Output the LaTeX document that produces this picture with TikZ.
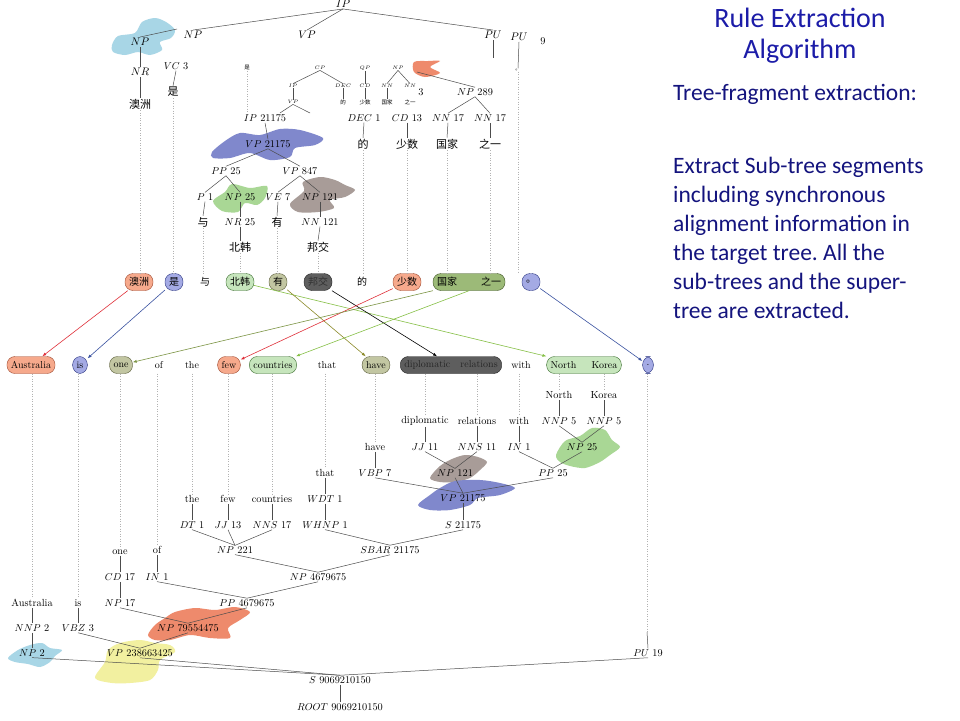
\documentclass[tikz,border=0pt]{standalone}
\usepackage{fontspec}
\newfontfamily\cjk{Noto Sans CJK SC}
\newfontfamily\slidefont{Carlito}
\usetikzlibrary{arrows.meta}
\frenchspacing

\definecolor{salmon}{HTML}{F6A98C}
\definecolor{salmonline}{HTML}{A04A30}
\definecolor{lilac}{HTML}{A4AAE4}
\definecolor{lilacline}{HTML}{2A3480}
\definecolor{mint}{HTML}{C6E5BC}
\definecolor{mintline}{HTML}{3C6E30}
\definecolor{sage}{HTML}{C2C6A2}
\definecolor{sageline}{HTML}{5A5C38}
\definecolor{slate}{HTML}{5E5E5E}
\definecolor{slateline}{HTML}{222222}
\definecolor{moss}{HTML}{9CBA78}
\definecolor{mossline}{HTML}{3E5424}
\definecolor{redlink}{HTML}{E0303A}
\definecolor{bluelink}{HTML}{3A52A0}
\definecolor{greenlink}{HTML}{86C046}
\definecolor{olivelink}{HTML}{8C8A2A}
\definecolor{mosslink}{HTML}{7C9444}
\definecolor{blobblue}{HTML}{8088CC}
\definecolor{blobgreen}{HTML}{A9D795}
\definecolor{blobtaupe}{HTML}{A89C98}
\definecolor{blobsky}{HTML}{A8D6E6}
\definecolor{blobcoral}{HTML}{EE8A6C}
\definecolor{blobyellow}{HTML}{F2F0A0}
\definecolor{titleblue}{HTML}{1C1CA8}
\definecolor{textblue}{HTML}{14147E}

\begin{document}
\begin{tikzpicture}[x=1pt, y=-1pt,
    tag/.style={inner sep=1pt, font=\fontsize{10.3}{12}\selectfont},
    toptag/.style={inner sep=1pt, font=\fontsize{11}{13}\selectfont},
    zh/.style={inner sep=1pt, font=\fontsize{11}{13}\selectfont\cjk},
    small/.style={inner sep=0.5pt, font=\fontsize{5.5}{6}\selectfont},
    smallzh/.style={inner sep=0.5pt, font=\fontsize{5.5}{6}\selectfont\cjk},
    word/.style={draw=#1line, fill=#1, rounded corners=8pt, minimum height=17pt,
      inner xsep=4pt, inner ysep=1pt, font=\fontsize{10}{12}\selectfont},
    bare/.style={minimum height=17pt, inner sep=1pt, font=\fontsize{10}{12}\selectfont},
    branch/.style={draw=black!70, line width=0.5pt},
    trace/.style={draw=black!30, dotted, line width=0.5pt},
    link/.style={draw=#1, -{Latex[length=4pt,width=3pt]}, line width=0.6pt}]
  \fill[white] (0,0) rectangle (960,720);
  \useasboundingbox (0,0) rectangle (960,720);

  % blobs behind the labels
  \fill[blobsky] plot[smooth cycle] coordinates {(112,45) (118,36) (135,33) (142,22) (155,18) (166,22) (175,30) (171,38) (160,42) (162,50) (150,55) (138,52) (125,55) (113,52)};
  \fill[blobcoral] plot[smooth cycle] coordinates {(414,62) (428,61) (440,61) (430,67) (440,73) (425,77) (414,72)};
  \fill[blobblue] plot[smooth cycle] coordinates {(212,152) (225,141) (240,133) (260,135) (280,129) (300,130) (323,138) (315,145) (295,148) (290,157) (270,160) (250,153) (230,158) (213,158)};
  \fill[blobgreen] plot[smooth cycle] coordinates {(213,201) (225,192) (232,184) (250,188) (267,186) (265,198) (257,205) (245,203) (238,212) (222,211)};
  \fill[blobtaupe] plot[smooth cycle] coordinates {(290,204) (304,191) (303,182) (320,177) (335,180) (345,185) (355,190) (345,197) (330,200) (334,208) (318,212) (298,212)};
  \fill[blobgreen] plot[smooth cycle] coordinates {(556,455) (565,441) (580,436) (592,428) (605,430) (612,440) (620,447) (610,455) (600,462) (585,468) (570,466) (560,462)};
  \fill[blobtaupe] plot[smooth cycle] coordinates {(430,478) (440,466) (452,459) (465,455) (478,457) (487,462) (480,470) (470,478) (455,482) (440,482)};
  \fill[blobblue] plot[smooth cycle] coordinates {(418,505) (430,495) (440,488) (455,481) (480,480) (500,483) (515,488) (500,495) (478,498) (470,505) (450,510) (430,510)};
  \fill[blobcoral] plot[smooth cycle] coordinates {(148,635) (155,625) (165,618) (175,612) (195,608) (215,610) (235,607) (250,612) (240,620) (228,628) (230,638) (210,638) (190,635) (170,640) (155,640)};
  \fill[blobsky] plot[smooth cycle] coordinates {(8,658) (18,650) (30,645) (42,643) (50,648) (62,650) (55,656) (50,662) (40,667) (28,664) (15,662)};
  \fill[blobyellow] plot[smooth cycle] coordinates {(95,678) (105,662) (108,650) (120,643) (140,640) (155,643) (170,645) (175,652) (160,660) (158,670) (150,680) (130,683) (112,683)};

  % Chinese tree
  \draw
    (343,4) node[toptag] (ip){$IP$}
    (193,35) node[toptag] (npB){$NP$}
    (307,35) node[toptag] (vpB){$VP$}
    (493,35) node[toptag] (puB){$PU$}
    (519,37) node[toptag] (puA){$PU$}
    (543,41) node[tag] (nine){9}
    (140,42) node[toptag] (npA){$NP$}
    (140,72) node[toptag] (nrA){$NR$}
    (140,104) node[zh] (aozhouA){澳洲}
    (176,66) node[tag] (vcA){$VC$ 3}
    (173,92) node[zh] (shiA){是}
    (518,70) node[smallzh] (dotA){。};
  \coordinate (npAup) at (177,29);
  \coordinate (puBstem) at (493,58);
  \draw
    (247,68) node[smallzh] (tshi){是}
    (320,68) node[small] (tcp){$CP$}
    (365,68) node[small] (tqp){$QP$}
    (398,68) node[small] (tnp){$NP$}
    (293,86) node[small] (tip){$IP$}
    (343,86) node[small] (tdec){$DEC$}
    (365,86) node[small] (tcd){$CD$}
    (387,86) node[small] (tnnA){$NN$}
    (410,86) node[small] (tnnB){$NN$}
    (293,102) node[small] (tvp){$VP$}
    (343,102) node[smallzh] (tde){的}
    (365,102) node[smallzh] (tshao){少数}
    (387,102) node[smallzh] (tguo){国家}
    (410,102) node[smallzh] (tzhi){之一}
    (421,92) node[tag] (three){3};
  \coordinate (tvpleft) at (280,113);
  \coordinate (tvpright) at (310,113);
  \coordinate (hid) at (417,72);
  \draw
    (265,118) node[tag] (ip21175){$IP$ 21175}
    (268,144) node[tag] (vp21175){$VP$ 21175}
    (226,171) node[tag] (pp25){$PP$ 25}
    (300,171) node[tag] (vp847){$VP$ 847}
    (205,197) node[tag] (p1){$P$ 1}
    (240,197) node[tag] (np25){$NP$ 25}
    (278,197) node[tag] (ve7){$VE$ 7}
    (320,197) node[tag] (np121){$NP$ 121}
    (203,222) node[zh] (yu){与}
    (240,222) node[tag] (nr25){$NR$ 25}
    (277,222) node[zh] (you){有}
    (320,222) node[tag] (nn121){$NN$ 121}
    (240,247) node[zh] (beihan){北韩}
    (318,247) node[zh] (bangjiao){邦交}
    (475,92) node[tag] (np289){$NP$ 289}
    (364,118) node[tag] (dec1){$DEC$ 1}
    (407,118) node[tag] (cd13){$CD$ 13}
    (448,118) node[tag] (nnA17){$NN$ 17}
    (490,118) node[tag] (nnB17){$NN$ 17}
    (363,144) node[zh] (de){的}
    (407,144) node[zh] (shaoshu){少数}
    (447,144) node[zh] (guojia){国家}
    (490,144) node[zh] (zhiyi){之一};
  \begin{scope}[branch]
    \draw (ip.south) -- (npB.north);
    \draw (ip.south) -- (vpB.north);
    \draw (ip.south) -- (puB.north);
    \draw (puB.south) -- (puBstem);
    \draw (npA.north) -- (npAup);
    \draw (npA.south) -- (nrA.north);
    \draw (nrA.south) -- (aozhouA.north);
    \draw (vcA.south) -- (shiA.north);
    \draw (puA.south) -- (dotA.north);
    \draw (tcp.south) -- (tip.north);
    \draw (tcp.south) -- (tdec.north);
    \draw (tip.south) -- (tvp.north);
    \draw (tvp.south) -- (tvpleft);
    \draw (tvp.south) -- (tvpright);
    \draw (tqp.south) -- (tcd.north);
    \draw (tnp.south) -- (tnnA.north);
    \draw (tnp.south) -- (tnnB.north);
    \draw (tdec.south) -- (tde.north);
    \draw (tcd.south) -- (tshao.north);
    \draw (tnnA.south) -- (tguo.north);
    \draw (hid) -- (np289.north);
    \draw (ip21175.south) -- (vp21175.north);
    \draw (vp21175.south) -- (pp25.north);
    \draw (vp21175.south) -- (vp847.north);
    \draw (pp25.south) -- (p1.north);
    \draw (pp25.south) -- (np25.north);
    \draw (vp847.south) -- (ve7.north);
    \draw (vp847.south) -- (np121.north);
    \draw (p1.south) -- (yu.north);
    \draw (np25.south) -- (nr25.north);
    \draw (ve7.south) -- (you.north);
    \draw (np121.south) -- (nn121.north);
    \draw (nr25.south) -- (beihan.north);
    \draw (nn121.south) -- (bangjiao.north);
    \draw (np289.south) -- (nnA17.north);
    \draw (np289.south) -- (nnB17.north);
    \draw (dec1.south) -- (de.north);
    \draw (cd13.south) -- (shaoshu.north);
    \draw (nnA17.south) -- (guojia.north);
    \draw (nnB17.south) -- (zhiyi.north);
  \end{scope}

  % aligned word rows
  \draw
    (139,282) node[word=salmon] (cAozhou){\cjk 澳洲}
    (174,282) node[word=lilac] (cShi){\cjk 是}
    (205,282) node[bare] (cYu){\cjk 与}
    (240,282) node[word=mint] (cBeihan){\cjk 北韩}
    (278,282) node[word=sage] (cYou){\cjk 有}
    (318,282) node[word=slate, text=black!80] (cBangjiao){\cjk 邦交}
    (362,282) node[bare] (cDe){\cjk 的}
    (407,282) node[word=salmon] (cShaoshu){\cjk 少数}
    (469,282) node[word=moss] (cGuojia){\cjk 国家\hspace{24pt}之一}
    (531,282) node[word=lilac] (cJu){\cjk 。};
  \draw
    (31,365) node[word=salmon] (eAustralia){Australia}
    (80,365) node[word=lilac] (eIs){is}
    (121,365) node[word=sage] (eOne){one}
    (159,365) node[bare] (eOf){of}
    (192,365) node[bare] (eThe){the}
    (229,365) node[word=salmon] (eFew){few}
    (273,365) node[word=mint] (eCountries){countries}
    (327,365) node[bare] (eThat){that}
    (376,365) node[word=sage] (eHave){have}
    (451,365) node[word=slate, text=black!85] (eDiplomatic){diplomatic\hspace{10pt}relations}
    (521,365) node[bare] (eWith){with}
    (584,365) node[word=mint] (eNorthKorea){North\hspace{15pt}Korea}
    (648,365) node[word=lilac] (eDot){.};
  \draw[link=redlink] (cAozhou) -- (eAustralia);
  \draw[link=bluelink] (cShi) -- (eIs);
  \draw[link=greenlink] (cBeihan) -- (eNorthKorea.north west);
  \draw[link=olivelink] (cYou) -- (eHave);
  \draw[link=black] (cBangjiao) -- (eDiplomatic);
  \draw[link=redlink] (cShaoshu) -- (eFew);
  \draw[link=mosslink] (cGuojia.south west) -- (eOne);
  \draw[link=greenlink] (cGuojia.south) -- (eCountries);
  \draw[link=bluelink] (cJu) -- (eDot);

  % English tree
  \draw
    (559,395) node[tag] (wNorth){North}
    (604,395) node[tag] (wKorea){Korea}
    (425,421) node[tag] (wDiplomatic){diplomatic}
    (477,421) node[tag] (wRelations){relations}
    (519,421) node[tag] (wWith){with}
    (559,421) node[tag] (nnp5a){$NNP$ 5}
    (604,421) node[tag] (nnp5b){$NNP$ 5}
    (375,447) node[tag] (wHave){have}
    (425,447) node[tag] (jj11){$JJ$ 11}
    (477,447) node[tag] (nns11){$NNS$ 11}
    (519,447) node[tag] (in1){$IN$ 1}
    (582,447) node[tag] (np25b){$NP$ 25}
    (325,473) node[tag] (wThat){that}
    (375,473) node[tag] (vbp7){$VBP$ 7}
    (455,473) node[tag] (np121b){$NP$ 121}
    (553,473) node[tag] (pp25b){$PP$ 25}
    (463,498) node[tag] (vp21175b){$VP$ 21175}
    (325,499) node[tag] (wdt1){$WDT$ 1}
    (192,499) node[tag] (wThe){the}
    (228,499) node[tag] (wFew){few}
    (272,499) node[tag] (wCountries){countries}
    (463,525) node[tag] (s21175){$S$ 21175}
    (325,525) node[tag] (whnp1){$WHNP$ 1}
    (192,525) node[tag] (dt1){$DT$ 1}
    (228,525) node[tag] (jj13){$JJ$ 13}
    (272,525) node[tag] (nns17){$NNS$ 17}
    (235,550) node[tag] (np221){$NP$ 221}
    (390,550) node[tag] (sbar){$SBAR$ 21175}
    (120,552) node[tag] (wOne){one}
    (157,550) node[tag] (wOf){of}
    (318,577) node[tag] (np4679675){$NP$ 4679675}
    (120,577) node[tag] (cd17){$CD$ 17}
    (157,577) node[tag] (in1b){$IN$ 1}
    (247,603) node[tag] (pp4679675){$PP$ 4679675}
    (120,603) node[tag] (np17){$NP$ 17}
    (32,603) node[tag] (wAustralia){Australia}
    (78,603) node[tag] (wIs){is}
    (188,628) node[tag] (np7955){$NP$ 79554475}
    (32,628) node[tag] (nnp2){$NNP$ 2}
    (78,628) node[tag] (vbz3){$VBZ$ 3}
    (32,653) node[tag] (np2){$NP$ 2}
    (140,653) node[tag] (vp2386){$VP$ 238663425}
    (648,653) node[tag] (pu19){$PU$ 19}
    (340,680) node[tag] (s9069){$S$ 9069210150}
    (340,707) node[tag] (root){$ROOT$ 9069210150};
  \coordinate (dotEnd) at (647,632);
  \begin{scope}[branch]
    \draw (wNorth.south) -- (nnp5a.north);
    \draw (wKorea.south) -- (nnp5b.north);
    \draw (nnp5a.south) -- (np25b.north);
    \draw (nnp5b.south) -- (np25b.north);
    \draw (wDiplomatic.south) -- (jj11.north);
    \draw (wRelations.south) -- (nns11.north);
    \draw (wWith.south) -- (in1.north);
    \draw (jj11.south) -- (np121b.north);
    \draw (nns11.south) -- (np121b.north);
    \draw (in1.south) -- (pp25b.north);
    \draw (np25b.south) -- (pp25b.north);
    \draw (wHave.south) -- (vbp7.north);
    \draw (vbp7.south) -- (vp21175b.north);
    \draw (np121b.south) -- (vp21175b.north);
    \draw (pp25b.south) -- (vp21175b.north);
    \draw (vp21175b.south) -- (s21175.north);
    \draw (wThat.south) -- (wdt1.north);
    \draw (wdt1.south) -- (whnp1.north);
    \draw (whnp1.south) -- (sbar.north);
    \draw (s21175.south) -- (sbar.north);
    \draw (wThe.south) -- (dt1.north);
    \draw (wFew.south) -- (jj13.north);
    \draw (wCountries.south) -- (nns17.north);
    \draw (dt1.south) -- (np221.north);
    \draw (jj13.south) -- (np221.north);
    \draw (nns17.south) -- (np221.north);
    \draw (np221.south) -- (np4679675.north);
    \draw (sbar.south) -- (np4679675.north);
    \draw (wOne.south) -- (cd17.north);
    \draw (cd17.south) -- (np17.north);
    \draw (wOf.south) -- (in1b.north);
    \draw (in1b.south) -- (pp4679675.north);
    \draw (np4679675.south) -- (pp4679675.north);
    \draw (np17.south) -- (np7955.north);
    \draw (pp4679675.south) -- (np7955.north);
    \draw (wAustralia.south) -- (nnp2.north);
    \draw (nnp2.south) -- (np2.north);
    \draw (wIs.south) -- (vbz3.north);
    \draw (vbz3.south) -- (vp2386.north);
    \draw (np7955.south) -- (vp2386.north);
    \draw (np2.south) -- (s9069.north);
    \draw (vp2386.south) -- (s9069.north);
    \draw (pu19.south) -- (s9069.north);
    \draw (s9069.south) -- (root.north);
    \draw (dotEnd) -- (pu19.north);
  \end{scope}

  % dotted traces between trees and rows
  \begin{scope}[trace]
    \draw (tshi.south) -- (tshi.south |- ip21175.north);
    \draw (aozhouA.south) -- (aozhouA.south |- cAozhou.north);
    \draw (shiA.south) -- (shiA.south |- cShi.north);
    \draw (yu.south) -- (yu.south |- cYu.north);
    \draw (beihan.south) -- (beihan.south |- cBeihan.north);
    \draw (you.south) -- (you.south |- cYou.north);
    \draw (bangjiao.south) -- (bangjiao.south |- cBangjiao.north);
    \draw (de.south) -- (de.south |- cDe.north);
    \draw (shaoshu.south) -- (shaoshu.south |- cShaoshu.north);
    \draw (guojia.south) -- (guojia.south |- cGuojia.north);
    \draw (zhiyi.south) -- (zhiyi.south |- cGuojia.north);
    \draw (dotA.south) -- (dotA.south |- cJu.north);
    \draw (wAustralia.north |- eAustralia.south) -- (wAustralia.north);
    \draw (wIs.north |- eIs.south) -- (wIs.north);
    \draw (wOne.north |- eOne.south) -- (wOne.north);
    \draw (wOf.north |- eOf.south) -- (wOf.north);
    \draw (wThe.north |- eThe.south) -- (wThe.north);
    \draw (wFew.north |- eFew.south) -- (wFew.north);
    \draw (wCountries.north |- eCountries.south) -- (wCountries.north);
    \draw (wThat.north |- eThat.south) -- (wThat.north);
    \draw (wHave.north |- eHave.south) -- (wHave.north);
    \draw (wDiplomatic.north |- eDiplomatic.south) -- (wDiplomatic.north);
    \draw (wRelations.north |- eDiplomatic.south) -- (wRelations.north);
    \draw (wWith.north |- eWith.south) -- (wWith.north);
    \draw (wNorth.north |- eNorthKorea.south) -- (wNorth.north);
    \draw (wKorea.north |- eNorthKorea.south) -- (wKorea.north);
    \draw (dotEnd |- eDot.south) -- (dotEnd);
  \end{scope}

  % slide text
  \node (title) at (800,36) [align=center, text=titleblue,
    font=\slidefont\fontsize{28}{31}\selectfont] {Rule Extraction\\Algorithm};
  \node (subhead) at (673,94) [anchor=west, inner sep=0pt, text=textblue,
    font=\slidefont\fontsize{23.5}{29}\selectfont] {Tree-fragment extraction:};
  \node (body) at (673,157) [anchor=north west, inner sep=0pt, align=left, text=textblue,
    font=\slidefont\fontsize{23.5}{29}\selectfont]
    {Extract Sub-tree segments\\including synchronous\\alignment information in\\the target tree. All the\\sub-trees and the super-\\tree are extracted.};
\end{tikzpicture}
\end{document}
